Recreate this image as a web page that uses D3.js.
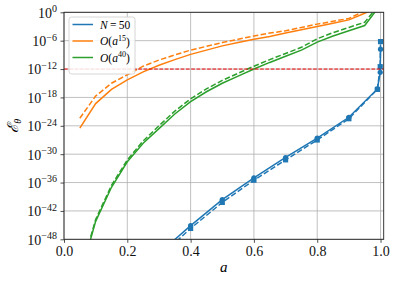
<!DOCTYPE html>
<html><head><meta charset="utf-8">
<script src="https://cdn.jsdelivr.net/npm/d3@7"></script>
<style>body{margin:0;background:#fff}svg{display:block}</style>
</head><body>
<svg id="chart" width="397" height="283"></svg>
<script>
// ---- data (values stored as log10 of the error) ----
const aGrid = [0.05,0.1,0.15,0.2,0.25,0.3,0.35,0.4,0.45,0.5,0.55,0.6,0.65,0.7,0.75,0.8,0.85,0.9,0.95,1.0];
const orangeSolidLog = [-24.5,-19.3,-16.3,-14.3,-12.6,-11.2,-10.0,-8.9,-8.0,-7.1,-6.4,-5.7,-5.1,-4.4,-3.7,-3.0,-2.3,-1.6,-0.2,1.5];
const orangeDashedLog = [-22.4,-17.7,-15.0,-13.2,-11.4,-10.1,-9.0,-8.0,-7.2,-6.4,-5.7,-5.0,-4.4,-3.9,-3.2,-2.5,-1.9,-1.3,0.3,2.0];
const greenSolidLog = [-56,-44.2,-37.0,-31.6,-27.7,-24.6,-21.5,-18.9,-16.8,-15.0,-13.5,-12.0,-10.6,-9.3,-8.0,-6.3,-5.0,-3.9,-2.8,1.6];
const greenDashedLog = [-55.5,-43.8,-36.6,-31.2,-27.2,-24.0,-20.9,-18.3,-16.2,-14.4,-12.9,-11.4,-10.0,-8.7,-7.4,-5.6,-4.3,-3.2,-2.1,2.0];
const blueA = [0.3,0.4,0.5,0.6,0.7,0.8,0.9,0.99,0.999,1.0];
const blueSolidLog = [-51.0,-45.1,-39.6,-35.0,-30.7,-26.6,-22.2,-16.2,-12.7,-7.8];
const blueDashedLog = [-51.8,-45.7,-40.2,-35.5,-31.2,-27.0,-22.5,-16.3,-11.5,-6.2];
const thresholdLog = -12;
const xTicks = [0.0,0.2,0.4,0.6,0.8,1.0];
const yTickExps = [0,-6,-12,-18,-24,-30,-36,-42,-48];
const legendLabels = ["N","O15","O40"];

// ---- layout ----
const W = 397, H = 283;
const L = 64, R = 383.7, T = 12.3, B = 239.3;
const C = {blue:"#1f77b4", orange:"#ff7f0e", green:"#2ca02c", red:"#ee0000"};
const svg = d3.select("#chart");
const x = d3.scaleLinear().domain([0,1.01]).range([L,R]);
const y = d3.scaleLog().domain([1e-48,1]).range([B,T]);
const font = "'Liberation Serif','DejaVu Serif',serif";

svg.append("defs").append("clipPath").attr("id","clip")
  .append("rect").attr("x",L).attr("y",T).attr("width",R-L).attr("height",B-T);

// grid
const g = svg.append("g");
g.selectAll("line.gx").data(xTicks).join("line")
  .attr("x1",d=>x(d)).attr("x2",d=>x(d)).attr("y1",T).attr("y2",B)
  .attr("stroke","#b0b0b0").attr("stroke-width",0.8);
g.selectAll("line.gy").data(yTickExps).join("line")
  .attr("y1",d=>y(Math.pow(10,d))).attr("y2",d=>y(Math.pow(10,d))).attr("x1",L).attr("x2",R)
  .attr("stroke","#b0b0b0").attr("stroke-width",0.8);

const plot = svg.append("g").attr("clip-path","url(#clip)");
function series(xs, logs, color, dashed, marker){
  const pts = xs.map((a,i)=>[a, Math.pow(10, logs[i])]);
  const line = d3.line().x(d=>x(d[0])).y(d=>y(d[1]));
  plot.append("path").attr("d",line(pts)).attr("fill","none")
    .attr("stroke",color).attr("stroke-width",1.5)
    .attr("stroke-dasharray",dashed?"5.5,2.4":null);
  if(marker==="circle"){
    plot.selectAll(null).data(pts).join("circle")
      .attr("cx",d=>x(d[0])).attr("cy",d=>y(d[1])).attr("r",2.6).attr("fill",color);
  } else if(marker==="square"){
    plot.selectAll(null).data(pts).join("rect")
      .attr("x",d=>x(d[0])-2.6).attr("y",d=>y(d[1])-2.6).attr("width",5.2).attr("height",5.2).attr("fill",color);
  }
}
series(blueA, blueSolidLog, C.blue, false, "circle");
series(blueA, blueDashedLog, C.blue, true, "square");
series(aGrid, orangeSolidLog, C.orange, false);
series(aGrid, orangeDashedLog, C.orange, true);
series(aGrid, greenSolidLog, C.green, false);
series(aGrid, greenDashedLog, C.green, true);

plot.append("line").attr("x1",L).attr("x2",R)
  .attr("y1",y(Math.pow(10,thresholdLog))).attr("y2",y(Math.pow(10,thresholdLog)))
  .attr("stroke",C.red).attr("stroke-width",1).attr("stroke-dasharray","3.7,1.6");

// axes
const xAxis = svg.append("g").attr("transform",`translate(0,${B})`)
  .call(d3.axisBottom(x).tickValues(xTicks).tickFormat(d3.format(".1f")).tickSize(3.5).tickPadding(3.5));
const yAxis = svg.append("g").attr("transform",`translate(${L},0)`)
  .call(d3.axisLeft(y).tickValues(yTickExps.map(e=>Math.pow(10,e))).tickSize(3.5).tickPadding(3.5).tickFormat(""));
[xAxis,yAxis].forEach(a=>{
  a.attr("font-family",font).attr("font-size",14);
  a.select(".domain").remove();
  a.selectAll(".tick line").attr("stroke","#222").attr("stroke-width",0.8);
  a.selectAll("text").attr("font-family",font).attr("font-size",14).attr("fill","#111");
});
yAxis.selectAll(".tick text").each(function(d){
  const e = Math.round(Math.log10(d));
  const t = d3.select(this).text(null).attr("dy","0.35em");
  t.append("tspan").text("10");
  t.append("tspan").attr("dy","-0.55em").attr("font-size",10).text(e===0?"0":"\u2212"+Math.abs(e));
});
// spines
svg.append("rect").attr("x",L).attr("y",T).attr("width",R-L).attr("height",B-T)
  .attr("fill","none").attr("stroke","#222").attr("stroke-width",0.9);

// axis labels
svg.append("text").attr("x",(L+R)/2).attr("y",272).attr("text-anchor","middle")
  .attr("font-family",font).attr("font-style","italic").attr("font-size",15).text("a");
const yl = svg.append("text").attr("transform",`translate(18,${(T+B)/2}) rotate(-90)`)
  .attr("text-anchor","middle").attr("font-family",font).attr("font-size",15);
yl.append("tspan").attr("font-family","'DejaVu Serif',serif").attr("font-style","italic").text("\u2130");
yl.append("tspan").attr("font-style","italic").attr("font-size",10).attr("dy","0.3em").text("\u03b8");

// legend
const lg = svg.append("g");
lg.append("rect").attr("x",69).attr("y",17).attr("width",66).attr("height",57).attr("rx",2.5)
  .attr("fill","#fff").attr("fill-opacity",0.85).attr("stroke","#cccccc").attr("stroke-width",0.8);
const rows = [{c:C.blue,y:24.5},{c:C.orange,y:41},{c:C.green,y:57.5}];
rows.forEach((r,i)=>{
  lg.append("line").attr("x1",72.5).attr("x2",93).attr("y1",r.y).attr("y2",r.y)
    .attr("stroke",r.c).attr("stroke-width",1.5);
  const t = lg.append("text").attr("x",100).attr("y",r.y+4).attr("font-family",font).attr("font-size",11.5);
  if(legendLabels[i]==="N"){
    t.append("tspan").attr("font-style","italic").text("N");
    t.append("tspan").text("\u2009=\u200950");
  } else {
    const p = legendLabels[i].slice(1);
    t.append("tspan").attr("font-style","italic").text("O");
    t.append("tspan").text("(");
    t.append("tspan").attr("font-style","italic").text("a");
    t.append("tspan").attr("font-size",8).attr("dy","-0.55em").text(p);
    t.append("tspan").attr("dy","0.45em").text(")");
  }
});
</script>
</body></html>
